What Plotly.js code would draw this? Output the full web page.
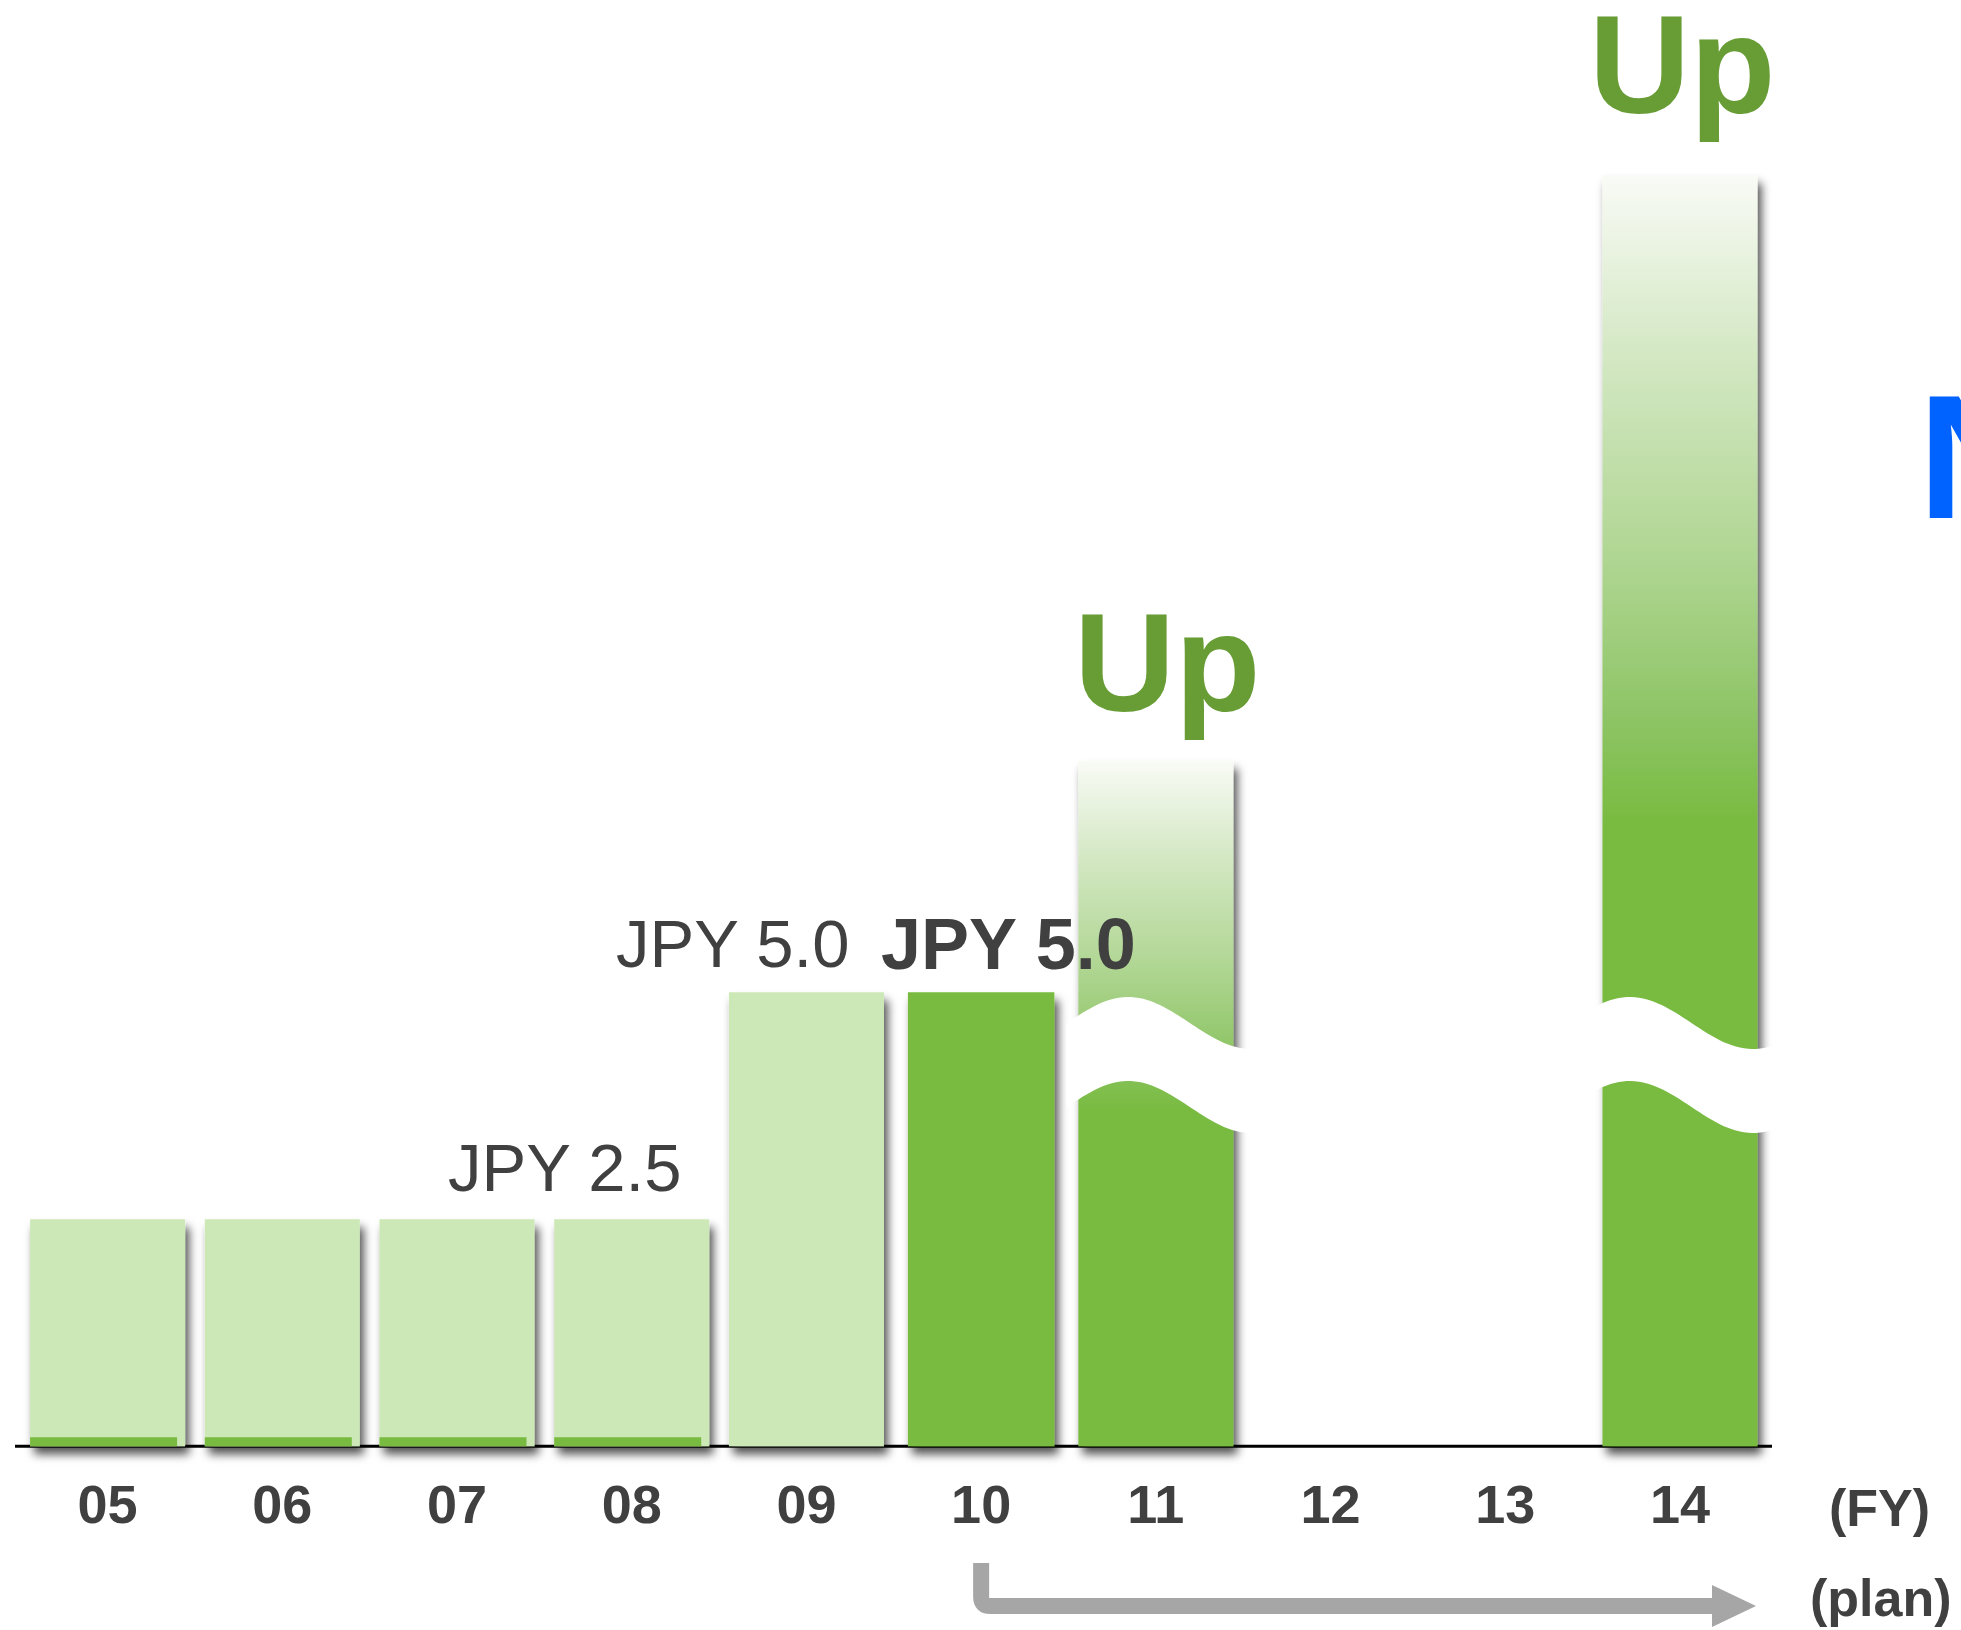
<!DOCTYPE html>
<html>
<head>
<meta charset="utf-8">
<script src="https://cdn.plot.ly/plotly-3.0.1.min.js"></script>
<style>
  html, body { margin: 0; padding: 0; background: #fff; overflow: hidden; }
  #chart { width: 1961px; height: 1630px; }
</style>
</head>
<body>
<div id="chart"></div>
<script>
// Annual dividend per share (JPY) by fiscal year
const fiscalYears = ['05', '06', '07', '08', '09', '10', '11', '12', '13', '14'];
const paidDividend = [2.5, 2.5, 2.5, 2.5, 5.0, null, null, null, null, null];
const currentDividend = [null, null, null, null, null, 5.0, null, null, null, null];
// planned years are drawn on a broken scale, heights are only indicative
const plannedLevel = [null, null, null, null, null, null, 7.55, null, null, 14.0];
// thin darker base under the early years
const baseSliver = [0.1, 0.1, 0.1, 0.1, null, null, null, null, null, null];
const planLabels = ['Up', 'Up'];
const planStartYear = '10';

// ---- geometry of the page -------------------------------------------
const W = 1961, H = 1630;
const M = { l: 15, r: 150, t: 0, b: 152 };
const X0 = -0.53, X1 = 9.75, Y0 = -0.35, Y1 = 15.929;
const PX_X = (W - M.l - M.r) / (X1 - X0);
const PX_Y = (H - M.t - M.b) / (Y1 - Y0);
const xAt = px => X0 + (px - M.l) / PX_X;          // page px -> x value
const yAt = py => Y1 - (py - M.t) / PX_Y;          // page px -> y value
const dxPx = px => px / PX_X;
const dyPx = py => py / PX_Y;
const paperX = px => (px - M.l) / (W - M.l - M.r);
const paperY = py => (H - M.b - py) / (H - M.t - M.b);

const xIdx = fiscalYears.map((_, i) => i);

const FONT = 'Liberation Sans, Arial, Helvetica, sans-serif';
const INK = '#404040';
const LIGHT = '#cde8b7';
const GREEN = '#78bb40';
const UP_GREEN = '#689d36';

const BAR_W = dxPx(155);

const traces = [
  { type: 'bar', x: xIdx, y: paidDividend, width: BAR_W,
    marker: { color: LIGHT, line: { width: 0 } } },
  { type: 'bar', x: xIdx, y: baseSliver, width: dxPx(147), offset: -BAR_W / 2,
    marker: { color: GREEN, line: { width: 0 } } },
  { type: 'bar', x: xIdx, y: currentDividend, width: dxPx(146.5),
    marker: { color: GREEN, line: { width: 0 } } },
  { type: 'bar', x: xIdx, y: plannedLevel, width: BAR_W,
    marker: { color: GREEN, line: { width: 0 } } }
];

// ---- axis-break bands across the planned bars ------------------------
const BREAK = { crest: yAt(997), amp: dyPx(52), thick: dyPx(84), half: dxPx(123) };
const crestOffset = { 6: dxPx(-27.5), 9: dxPx(-50) };

function breakBand(xc) {
  const x0 = xc - BAR_W / 2 - dxPx(12);
  const x1 = xc + BAR_W / 2 + dxPx(27);
  const xp = xc + crestOffset[xc];
  const top = x => BREAK.crest - BREAK.amp / 2 * (1 - Math.cos(Math.PI * (x - xp) / BREAK.half));
  const n = 48;
  let d = '';
  for (let i = 0; i <= n; i++) {
    const x = x0 + (x1 - x0) * i / n;
    d += (i ? 'L' : 'M') + x.toFixed(5) + ',' + top(x).toFixed(5);
  }
  for (let i = n; i >= 0; i--) {
    const x = x0 + (x1 - x0) * i / n;
    d += 'L' + x.toFixed(5) + ',' + (top(x) - BREAK.thick).toFixed(5);
  }
  return d + 'Z';
}

const planIdx = plannedLevel.map((v, i) => (v == null ? -1 : i)).filter(i => i >= 0);

const shapes = [
  { type: 'line', xref: 'x', yref: 'y', x0: xAt(15), x1: xAt(1772), y0: 0, y1: 0,
    line: { color: '#000', width: 3 }, layer: 'below' }
];
planIdx.forEach(i => shapes.push({
  type: 'path', xref: 'x', yref: 'y', path: breakBand(i),
  fillcolor: '#ffffff', line: { width: 0 }, layer: 'above'
}));

// plan arrow under the axis
const ax0 = fiscalYears.indexOf(planStartYear);
const aTop = paperY(1563), aMid = paperY(1606);
const headBase = xAt(1712), tip = xAt(1756);
const rX = dxPx(9), rY = 9 / (H - M.t - M.b), hh = 21 / (H - M.t - M.b);
shapes.push({
  type: 'path', xref: 'x', yref: 'paper',
  path: `M${ax0},${aTop} L${ax0},${aMid + rY} Q${ax0},${aMid} ${ax0 + rX},${aMid} L${headBase},${aMid}`,
  line: { color: '#a6a6a6', width: 16 }
});
shapes.push({
  type: 'path', xref: 'x', yref: 'paper',
  path: `M${headBase},${aMid + hh} L${tip},${aMid} L${headBase},${aMid - hh} Z`,
  fillcolor: '#a6a6a6', line: { width: 0 }
});

// ---- text ---------------------------------------------------------------
const jpy = v => 'JPY ' + v.toFixed(1);
const annotations = [
  { xref: 'x', yref: 'y', x: xAt(564), y: yAt(1167), text: jpy(paidDividend[3]),
    font: { family: FONT, size: 67, color: INK } },
  { xref: 'x', yref: 'y', x: xAt(732), y: yAt(943), text: jpy(paidDividend[4]),
    font: { family: FONT, size: 67, color: INK } },
  { xref: 'x', yref: 'y', x: xAt(1008), y: yAt(944), text: jpy(currentDividend[5]),
    font: { family: FONT, size: 72, color: INK, weight: 'bold' } },
  { xref: 'x', yref: 'y', x: xAt(1167.5), y: yAt(662), text: planLabels[0],
    font: { family: FONT, size: 140, color: UP_GREEN, weight: 'bold' } },
  { xref: 'x', yref: 'y', x: xAt(1682), y: yAt(64), text: planLabels[1],
    font: { family: FONT, size: 140, color: UP_GREEN, weight: 'bold' } },
  { xref: 'paper', yref: 'paper', x: paperX(1879), y: paperY(1508), text: '(FY)',
    font: { family: FONT, size: 52, color: INK, weight: 'bold' } },
  { xref: 'paper', yref: 'paper', x: paperX(1881), y: paperY(1598), text: '(plan)',
    font: { family: FONT, size: 52, color: INK, weight: 'bold' } },
  { xref: 'paper', yref: 'y', x: paperX(1916), y: yAt(457), xanchor: 'left', text: 'N',
    font: { family: FONT, size: 176, color: '#0062ff', weight: 'bold' } }
].map(a => Object.assign({ showarrow: false, xanchor: 'center', yanchor: 'middle' }, a));

const layout = {
  width: W, height: H, margin: M,
  paper_bgcolor: '#fff', plot_bgcolor: '#fff',
  barmode: 'overlay', showlegend: false, hovermode: false,
  xaxis: {
    range: [X0, X1], tickvals: xIdx, ticktext: fiscalYears,
    showgrid: false, zeroline: false, showline: false, ticks: '',
    ticklabelstandoff: -10,
    tickfont: { family: FONT, size: 54, color: INK, weight: 'bold' }
  },
  yaxis: { range: [Y0, Y1], visible: false, showgrid: false, zeroline: false },
  shapes, annotations
};

const gd = document.getElementById('chart');
Plotly.newPlot(gd, traces, layout, { staticPlot: true, displayModeBar: false }).then(() => {
  const NS = 'http://www.w3.org/2000/svg';
  const svg = gd.querySelector('svg.main-svg');
  let defs = svg.querySelector('defs');
  if (!defs) { defs = document.createElementNS(NS, 'defs'); svg.insertBefore(defs, svg.firstChild); }

  // fade-in fill for the planned bars
  const grad = document.createElementNS(NS, 'linearGradient');
  grad.setAttribute('id', 'planFade');
  grad.setAttribute('x1', '0'); grad.setAttribute('y1', '0');
  grad.setAttribute('x2', '0'); grad.setAttribute('y2', '1');
  [[0, '#f9fbf6'], [0.14, '#d4e8c4'], [0.30, '#b0d693'], [0.43, '#8dc464'], [0.51, GREEN], [1, GREEN]]
    .forEach(([o, c]) => {
      const s = document.createElementNS(NS, 'stop');
      s.setAttribute('offset', o); s.setAttribute('stop-color', c);
      grad.appendChild(s);
    });
  defs.appendChild(grad);

  // soft drop shadow for bars
  const filt = document.createElementNS(NS, 'filter');
  filt.setAttribute('id', 'barShadow');
  filt.setAttribute('x', '-0.3'); filt.setAttribute('y', '-0.05');
  filt.setAttribute('width', '1.6'); filt.setAttribute('height', '1.25');
  const ds = document.createElementNS(NS, 'feDropShadow');
  ds.setAttribute('dx', '4'); ds.setAttribute('dy', '8');
  ds.setAttribute('stdDeviation', '5');
  ds.setAttribute('flood-color', '#000'); ds.setAttribute('flood-opacity', '0.68');
  filt.appendChild(ds);
  defs.appendChild(filt);

  const groups = gd.querySelectorAll('.barlayer .trace');
  groups.forEach((g, ti) => {
    g.querySelectorAll('.point path').forEach(p => {
      if (ti !== 1) p.setAttribute('filter', 'url(#barShadow)');
      if (ti === 3) p.style.fill = 'url(#planFade)';
    });
  });
});
</script>
</body>
</html>
